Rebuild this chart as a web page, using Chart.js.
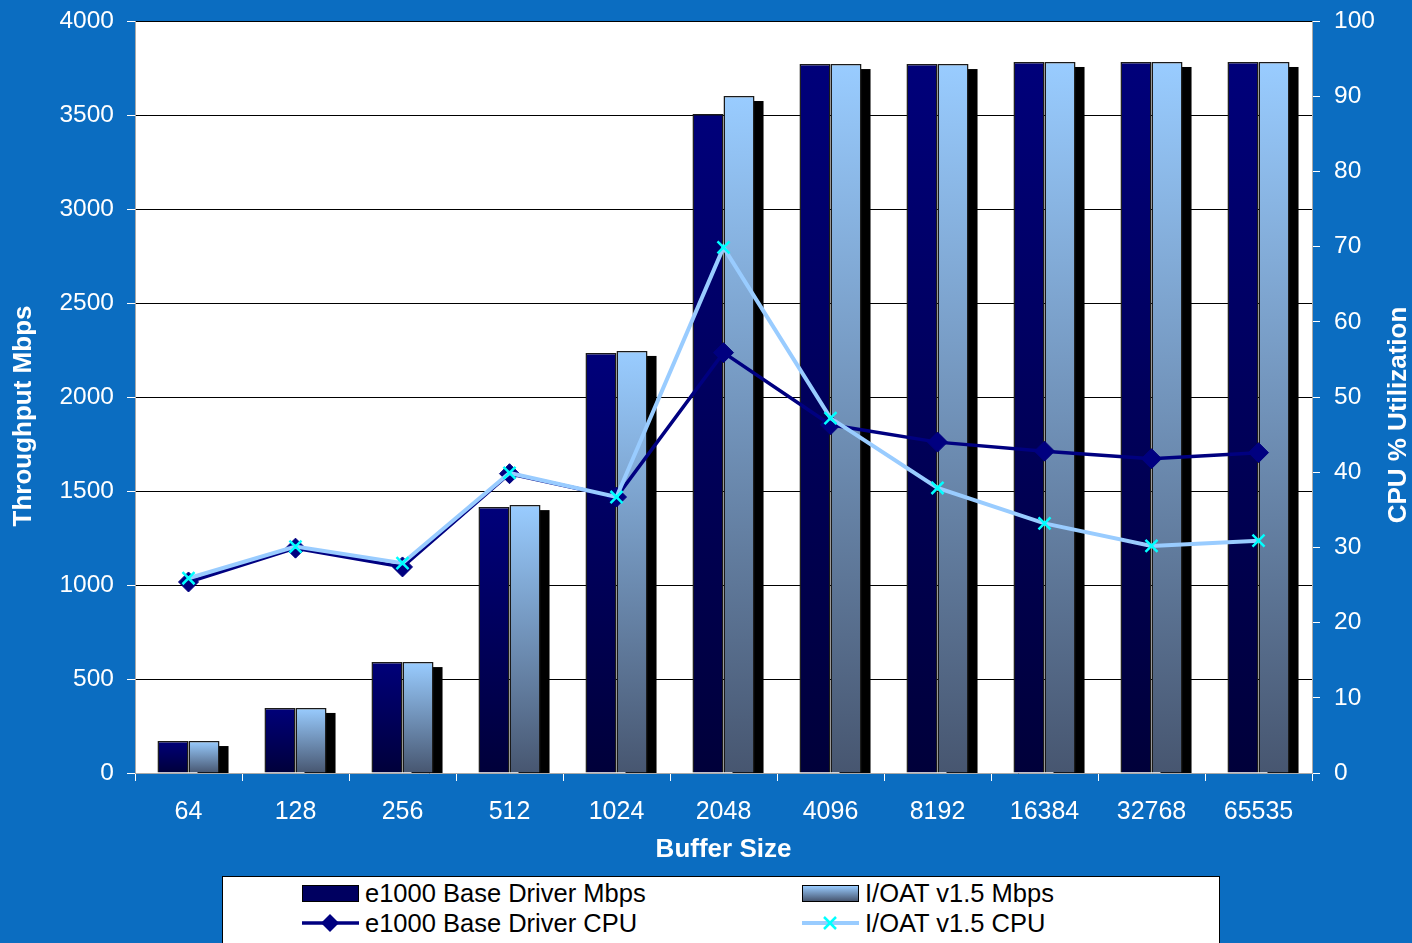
<!DOCTYPE html>
<html>
<head>
<meta charset="utf-8">
<script src="https://cdn.jsdelivr.net/npm/chart.js@4.4.1/dist/chart.umd.min.js"></script>
<style>
  html,body{margin:0;padding:0;background:#0B6DC1;overflow:hidden;}
  #wrap{position:relative;width:1412px;height:943px;}
  canvas{position:absolute;left:0;top:0;}
  #legend{position:absolute;left:222px;top:876px;width:996px;height:80px;background:#fff;border:1px solid #000;font-family:"Liberation Sans",Arial,sans-serif;font-size:25.5px;color:#000;}
  .item{position:absolute;display:flex;align-items:center;height:28px;}
  .item span{margin-left:6px;white-space:nowrap;}
  .sw{width:55px;height:15px;border:1px solid #000;}
</style>
</head>
<body>
<div id="wrap">
<canvas id="c" width="1412" height="943"></canvas>
<div id="legend"></div>
</div>
<script>
const categories = ['64','128','256','512','1024','2048','4096','8192','16384','32768','65535'];
const e1000Mbps = [170, 346, 590, 1415, 2234, 3505, 3771, 3771, 3782, 3782, 3782];
const ioatMbps  = [170, 346, 590, 1425, 2245, 3601, 3771, 3771, 3782, 3782, 3782];
const e1000Cpu  = [25.4, 29.9, 27.4, 39.8, 36.7, 55.9, 46.3, 44.0, 42.8, 41.8, 42.6];
const ioatCpu   = [25.9, 30.1, 27.9, 39.9, 36.7, 69.9, 47.2, 37.9, 33.2, 30.2, 30.9];
const seriesNames = ['e1000 Base Driver Mbps','I/OAT v1.5 Mbps','e1000 Base Driver CPU','I/OAT v1.5 CPU'];
const axisTitles = ['Buffer Size','Throughput Mbps','CPU % Utilization'];
const leftTicksMax = 4000, leftStep = 500, rightMax = 100, rightStep = 10;

const FONT = '"Liberation Sans", Arial, sans-serif';

function barGrad(topC, botC){
  return (ctx) => {
    const chart = ctx.chart;
    if (!chart.chartArea || ctx.type !== 'data') return topC;
    const y = chart.scales.y;
    const y0 = y.getPixelForValue(ctx.raw), y1 = y.getPixelForValue(0);
    if (!isFinite(y0) || !isFinite(y1) || y1 - y0 < 1) return topC;
    const g = chart.ctx.createLinearGradient(0, y0, 0, y1);
    g.addColorStop(0, topC);
    g.addColorStop(1, botC);
    return g;
  };
}

const plotBg = {
  id:'plotBg',
  beforeDraw(chart){
    const {ctx, chartArea:a} = chart;
    ctx.save();
    ctx.fillStyle = '#fff';
    ctx.fillRect(a.left, a.top, a.right-a.left, a.bottom-a.top);
    ctx.restore();
  },
  afterDraw(chart){
    const {ctx} = chart;
    const drawV = (text, x, y) => {
      ctx.save();
      ctx.fillStyle = '#fff';
      ctx.font = 'bold 26px ' + FONT;
      ctx.textAlign = 'center';
      ctx.textBaseline = 'middle';
      ctx.translate(x, y);
      ctx.rotate(-Math.PI/2);
      ctx.fillText(text, 0, 0);
      ctx.restore();
    };
    drawV(axisTitles[1], 24, 416);
    drawV(axisTitles[2], 1399, 415);
  }
};

// black drop shadow behind the I/OAT bars, from the bar elements' own geometry
const barShadow = {
  id:'barShadow',
  beforeDatasetDraw(chart, args){
    if (args.index !== 1) return;
    const {ctx, chartArea:a} = chart;
    ctx.save();
    ctx.beginPath();
    ctx.rect(a.left, a.top, a.right-a.left, a.bottom-a.top);
    ctx.clip();
    ctx.fillStyle = '#000';
    args.meta.data.forEach(el => {
      const p = el.getProps(['x','y','base','width'], true);
      const left = p.x - p.width/2 + 9;
      ctx.fillRect(left, p.y + 5, p.width, p.base - p.y);
    });
    ctx.restore();
  }
};

new Chart(document.getElementById('c'), {
  data: {
    labels: categories,
    datasets: [
      { type:'bar', label:seriesNames[0], data:e1000Mbps, yAxisID:'y', order:2,
        backgroundColor: barGrad('#00007A','#00003A'), borderColor:'#1a1a1a', borderWidth:1.5,
        categoryPercentage:0.58, barPercentage:1.0 },
      { type:'bar', label:seriesNames[1], data:ioatMbps, yAxisID:'y', order:3,
        backgroundColor: barGrad('#99CCFF','#475670'), borderColor:'#1a1a1a', borderWidth:1.5,
        categoryPercentage:0.58, barPercentage:1.0 },
      { type:'line', label:seriesNames[2], data:e1000Cpu, yAxisID:'y1', order:1,
        borderColor:'#000080', borderWidth:3.5, pointStyle:'rectRot', pointRadius:10,
        pointBackgroundColor:'#000080', pointBorderColor:'#000080', pointBorderWidth:1, tension:0 },
      { type:'line', label:seriesNames[3], data:ioatCpu, yAxisID:'y1', order:0,
        borderColor:'#99CCFF', borderWidth:4, pointStyle:'crossRot', pointRadius:8.5,
        pointBorderColor:'#00FFFF', pointBackgroundColor:'#00FFFF', pointBorderWidth:2.5, tension:0 }
    ]
  },
  options: {
    responsive:false,
    animation:false,
    devicePixelRatio:1,
    layout:{ padding:{ top:21, left:0, right:0, bottom:0 } },
    plugins:{ legend:{display:false}, tooltip:{enabled:false} },
    scales:{
      x:{
        type:'category', offset:true,
        grid:{ offset:true, drawOnChartArea:false, tickColor:'#fff', tickLength:8, color:'#fff' },
        border:{ color:'#aaa', width:1 },
        ticks:{ color:'#fff', font:{family:FONT, size:25}, padding:16, maxRotation:0 },
        title:{ display:true, text:axisTitles[0], color:'#fff', font:{family:FONT, size:26, weight:'bold'}, padding:{top:0, bottom:78} },
        afterFit(s){ s.height = 170; s.paddingLeft = 0; s.paddingRight = 0; }
      },
      y:{
        position:'left', min:0, max:leftTicksMax,
        ticks:{ stepSize:leftStep, color:'#fff', font:{family:FONT, size:24.5}, padding:13, callback:(v)=>String(v) },
        grid:{ color:'#000', lineWidth:1, tickColor:'#fff', tickLength:8 },
        border:{ color:'#aaa', width:1 },
        afterFit(s){ s.width = 135; s.paddingTop = 0; s.paddingBottom = 0; }
      },
      y1:{
        position:'right', min:0, max:rightMax,
        ticks:{ stepSize:rightStep, color:'#fff', font:{family:FONT, size:24.5}, padding:14, callback:(v)=>String(v) },
        grid:{ drawOnChartArea:false, tickColor:'#fff', tickLength:8 },
        border:{ color:'#aaa', width:1 },
        afterFit(s){ s.width = 100; s.paddingTop = 0; s.paddingBottom = 0; }
      }
    }
  },
  plugins:[plotBg, barShadow]
});

// HTML legend
const legend = document.getElementById('legend');
const diamondSvg = '<svg width="57" height="20"><line x1="0" y1="10" x2="57" y2="10" stroke="#000080" stroke-width="3.5"/><polygon points="28,1 37,10 28,19 19,10" fill="#000080"/></svg>';
const crossSvg = '<svg width="57" height="20"><line x1="0" y1="10" x2="57" y2="10" stroke="#99CCFF" stroke-width="4"/><line x1="22" y1="4" x2="34" y2="16" stroke="#00FFFF" stroke-width="2.5"/><line x1="34" y1="4" x2="22" y2="16" stroke="#00FFFF" stroke-width="2.5"/></svg>';
const items = [
  {x:79, y:2, sw:'<div class="sw" style="background:#000060"></div>', t:seriesNames[0]},
  {x:579, y:2, sw:'<div class="sw" style="background:linear-gradient(#99CCFF,#475670)"></div>', t:seriesNames[1]},
  {x:79, y:32, sw:diamondSvg, t:seriesNames[2]},
  {x:579, y:32, sw:crossSvg, t:seriesNames[3]}
];
items.forEach(it => {
  const d = document.createElement('div');
  d.className = 'item';
  d.style.left = it.x + 'px';
  d.style.top = it.y + 'px';
  d.innerHTML = it.sw + '<span>' + it.t + '</span>';
  legend.appendChild(d);
});
</script>
</body>
</html>
